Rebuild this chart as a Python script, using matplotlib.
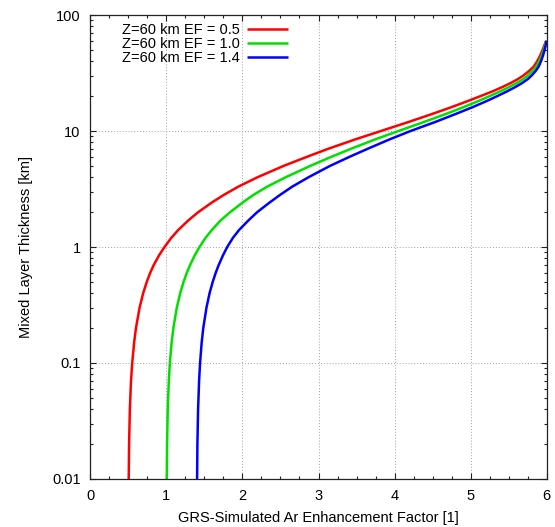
import matplotlib
matplotlib.use('Agg')
import matplotlib.pyplot as plt
from matplotlib.ticker import FixedLocator, MultipleLocator, LogLocator, NullFormatter

plt.rcParams['font.family'] = ['Liberation Sans', 'DejaVu Sans']

# mixed layer thickness [km]
h = [0.01, 0.02, 0.04, 0.07, 0.1, 0.15, 0.2, 0.3, 0.4, 0.5, 0.6, 0.7, 0.85,
     1.0, 1.2, 1.4, 1.7, 2.0, 2.4, 2.8, 3.3, 4.0, 5.0, 6.0, 7.0, 8.5, 10,
     12, 14, 16, 18, 20, 22, 24, 26, 28, 30, 33, 36, 40, 45, 50, 55, 60]

# simulated Ar enhancement factor for each curve
x_ef05 = [0.505, 0.51, 0.52, 0.535, 0.551, 0.576, 0.60, 0.648, 0.695, 0.742,
          0.788, 0.834, 0.905, 0.975, 1.065, 1.155, 1.29, 1.42, 1.59, 1.75,
          1.94, 2.20, 2.54, 2.85, 3.12, 3.49, 3.82, 4.19, 4.49, 4.74, 4.95,
          5.13, 5.29, 5.42, 5.53, 5.62, 5.69, 5.77, 5.83, 5.875, 5.915, 5.945,
          5.97, 5.995]
x_ef10 = [1.005, 1.009, 1.018, 1.032, 1.046, 1.069, 1.092, 1.137, 1.182, 1.226,
          1.269, 1.312, 1.374, 1.435, 1.515, 1.597, 1.715, 1.84, 1.995, 2.14,
          2.32, 2.57, 2.89, 3.17, 3.42, 3.75, 4.05, 4.39, 4.67, 4.90, 5.09,
          5.25, 5.39, 5.51, 5.61, 5.69, 5.75, 5.815, 5.865, 5.90, 5.935, 5.96,
          5.98, 5.997]
x_ef14 = [1.404, 1.408, 1.417, 1.43, 1.443, 1.464, 1.485, 1.527, 1.568, 1.609,
          1.649, 1.688, 1.745, 1.80, 1.875, 1.955, 2.08, 2.195, 2.35, 2.49,
          2.65, 2.87, 3.15, 3.41, 3.64, 3.94, 4.21, 4.54, 4.80, 5.02, 5.20,
          5.35, 5.48, 5.59, 5.68, 5.75, 5.80, 5.855, 5.895, 5.925, 5.952, 5.972,
          5.987, 6.0]

labels = ['Z=60 km EF = 0.5', 'Z=60 km EF = 1.0', 'Z=60 km EF = 1.4']
colors = ['#ff0000', '#00e000', '#0000ff']

fig = plt.figure(figsize=(5.55, 5.27), dpi=100)
ax = fig.add_axes([0.1627, 0.0911, 0.8224, 0.8804])

for xs, lab, c in zip([x_ef05, x_ef10, x_ef14], labels, colors):
    ax.plot(xs, h, color=c, lw=1.8, label=lab, solid_capstyle='butt',
            solid_joinstyle='round')

ax.set_yscale('log')
ax.set_xlim(0, 6)
ax.set_ylim(0.01, 100)

ax.xaxis.set_major_locator(MultipleLocator(1))
ax.xaxis.set_minor_locator(MultipleLocator(0.25))
ax.yaxis.set_major_locator(FixedLocator([0.01, 0.1, 1, 10, 100]))
ax.yaxis.set_minor_locator(LogLocator(base=10, subs=range(2, 10)))
ax.yaxis.set_minor_formatter(NullFormatter())
ax.set_yticklabels(['0.01', '0.1', '1', '10', '100'])

ax.tick_params(which='both', direction='in', top=True, right=True,
               labelsize=10.5, width=0.8, color='#222222')
ax.tick_params(which='major', length=4.5, pad=7)
ax.tick_params(which='minor', length=2.2)

ax.grid(True, which='major', color='#a0a0a0', linestyle=(0, (1, 2)), lw=0.7)
for s in ax.spines.values():
    s.set_linewidth(0.9)
    s.set_color('#222222')

ax.set_xlabel('GRS-Simulated Ar Enhancement Factor [1]', fontsize=10.5, labelpad=6)
ax.set_ylabel('Mixed Layer Thickness [km]', fontsize=10.5, labelpad=14)

ax.legend(loc='upper left', bbox_to_anchor=(0.07, 0.982), frameon=False,
          markerfirst=False, fontsize=10.5, handlelength=2.85,
          handletextpad=0.46, labelspacing=0.0, borderpad=0, borderaxespad=0)

fig.savefig('out.png', dpi=100)
